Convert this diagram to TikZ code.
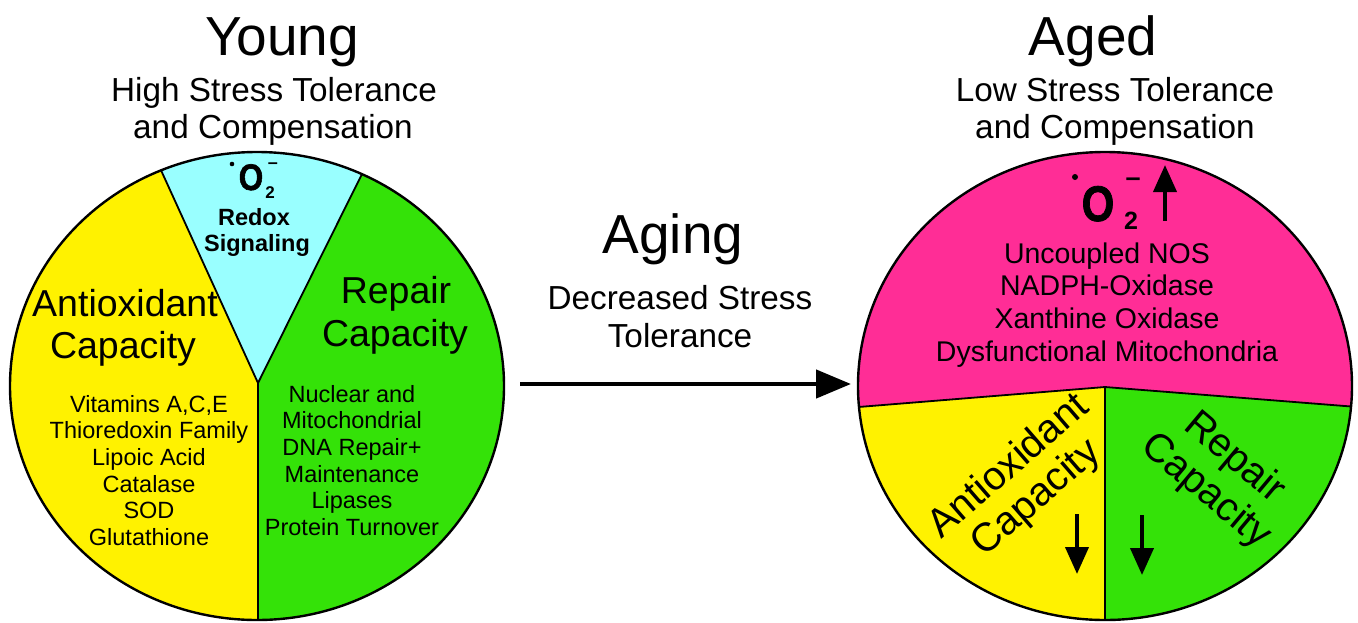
\documentclass[tikz,border=0pt]{standalone}
\usepackage{fontspec}
\setmainfont{Liberation Sans}
\newfontfamily\heavyfont[FakeBold=1.6]{Liberation Sans Bold}
\usetikzlibrary{arrows.meta,calc}
\definecolor{ylw}{RGB}{255,242,0}
\definecolor{cyn}{RGB}{153,255,255}
\definecolor{grn}{RGB}{52,226,8}
\definecolor{mag}{RGB}{255,45,150}
\newcommand\setfs[1]{\fontsize{#1}{#1}\selectfont}
\begin{document}
\begin{tikzpicture}[x=1pt,y=-1pt,
  txt/.style={inner sep=0pt,anchor=base,align=center},
  title/.style={txt,font=\setfs{55}},
  subtitle/.style={txt,font=\setfs{33.3}},
  biglab/.style={txt,font=\setfs{37.5}},
  listtxt/.style={txt,font=\setfs{23.5}},
  boldtxt/.style={txt,font=\bfseries\setfs{23.5}},
  rimline/.style={draw=black,line width=2.4pt},
  divline/.style={draw=black,line width=1.8pt},
  bigarrow/.style={line width=4.5pt,-{Triangle[length=35pt,width=28pt]}},
  smallarrow/.style={line width=4pt,-{Triangle[length=27pt,width=23pt]}}]
\useasboundingbox (0,0) rectangle (1358,622);
\fill[white] (0,0) rectangle (1358,622);

% ---------- left circle ----------
\coordinate (Lc) at (257,386);
\coordinate (Lv) at (258,383);
\coordinate (Lp1) at (160,168);
\coordinate (Lp2) at (363,172);
\coordinate (Lb) at (258,650);
\begin{scope}
  \clip (Lc) ellipse [x radius=247,y radius=234];
  \fill[ylw] (0,100) rectangle (520,650);
  \fill[grn] (Lv) -- ($(Lv)!1.3!(Lp2)$) -- (520,100) -- (520,650) -- (Lb) -- cycle;
  \fill[cyn] (Lv) -- ($(Lv)!1.3!(Lp1)$) -- ($(Lv)!1.3!(Lp2)$) -- cycle;
  \draw[divline] ($(Lv)!1.3!(Lp1)$) -- (Lv) -- ($(Lv)!1.3!(Lp2)$);
  \draw[divline] (Lv) -- (Lb);
\end{scope}
\draw[rimline] (Lc) ellipse [x radius=247,y radius=234];

% ---------- right circle ----------
\coordinate (Rc) at (1105,386);
\coordinate (Rv) at (1105,387);
\coordinate (Rl) at (840,408.5);
\coordinate (Rr) at (1370,408);
\coordinate (Rb) at (1105,650);
\begin{scope}
  \clip (Rc) ellipse [x radius=247,y radius=234];
  \fill[mag] (840,100) rectangle (1370,650);
  \fill[ylw] (Rv) -- (Rl) -- (840,650) -- (Rb) -- cycle;
  \fill[grn] (Rv) -- (Rr) -- (1370,650) -- (Rb) -- cycle;
  \draw[divline] (Rl) -- (Rv) -- (Rr);
  \draw[divline] (Rv) -- (Rb);
\end{scope}
\draw[rimline] (Rc) ellipse [x radius=247,y radius=234];

% ---------- titles ----------
\node[title] (young) at (282,55) {Young};
\node[subtitle] (ys1) at (274,101) {High Stress Tolerance};
\node[subtitle] (ys2) at (273,138) {and Compensation};
\node[title] (aged) at (1093,55) {Aged};
\node[subtitle] (as1) at (1115,101) {Low Stress Tolerance};
\node[subtitle] (as2) at (1115,138) {and Compensation};
\node[title] (aging) at (673,253) {Aging};
\node[subtitle] (ag1) at (680,309) {Decreased Stress};
\node[subtitle] (ag2) at (680,347) {Tolerance};

% ---------- arrow ----------
\coordinate (aS) at (520,384);
\coordinate (aE) at (851,384);
\draw[bigarrow] (aS) -- (aE);

% ---------- left circle texts ----------
\node[txt,font=\heavyfont\setfs{37}] (lO) at (251,190) {\scalebox{0.85}[1]{O}};
\fill (232,164) circle (2.3);
\node[txt,font=\bfseries\setfs{18}] (lsup) at (273,168) {–};
\node[txt,font=\bfseries\setfs{17}] (lsub) at (270,198) {2};
\node[boldtxt] (redox) at (254,225) {Redox};
\node[boldtxt] (sig) at (257,251) {Signaling};

\node[biglab] (aox1) at (125,316) {Antioxidant};
\node[biglab] (aox2) at (123,358) {Capacity};
\node[biglab] (rep1) at (396,303) {Repair};
\node[biglab] (rep2) at (395,346) {Capacity};

\foreach \t [count=\i] in {{Vitamins A,C,E},Thioredoxin Family,Lipoic Acid,Catalase,SOD,Glutathione}
  \node[listtxt] (al\i) at (149,{412+26.7*(\i-1)}) {\t};
\foreach \t [count=\i] in {Nuclear and,Mitochondrial,DNA Repair+,Maintenance,Lipases,Protein Turnover}
  \node[listtxt] (rl\i) at (352,{402+26.7*(\i-1)}) {\t};

% ---------- right circle texts ----------
\node[txt,font=\heavyfont\setfs{50}] (rO) at (1098,221) {\scalebox{0.84}[1]{O}};
\fill (1075,177) circle (3);
\node[txt,font=\bfseries\setfs{27}] (rsup) at (1133,186) {–};
\node[txt,font=\bfseries\setfs{25}] (rsub) at (1131,229) {2};
\coordinate (upS) at (1165,221);
\coordinate (upE) at (1165,165);
\draw[smallarrow] (upS) -- (upE);

\foreach \t [count=\i] in {Uncoupled NOS,NADPH-Oxidase,Xanthine Oxidase,Dysfunctional Mitochondria}
  \node[txt,font=\setfs{28.5}] (ml\i) at (1107,{263+32.7*(\i-1)}) {\t};

\node[inner sep=0pt,align=center,font=\fontsize{40}{42}\selectfont,rotate=41] (raox) at (1023,483) {Antioxidant\\Capacity};
\node[inner sep=0pt,align=center,font=\fontsize{40}{44}\selectfont,rotate=-40] (rrep) at (1220,475) {Repair\\Capacity};

\coordinate (d1S) at (1077,514);
\coordinate (d1E) at (1077,574);
\draw[smallarrow] (d1S) -- (d1E);
\coordinate (d2S) at (1142,515);
\coordinate (d2E) at (1142,575);
\draw[smallarrow] (d2S) -- (d2E);
\end{tikzpicture}
\end{document}
